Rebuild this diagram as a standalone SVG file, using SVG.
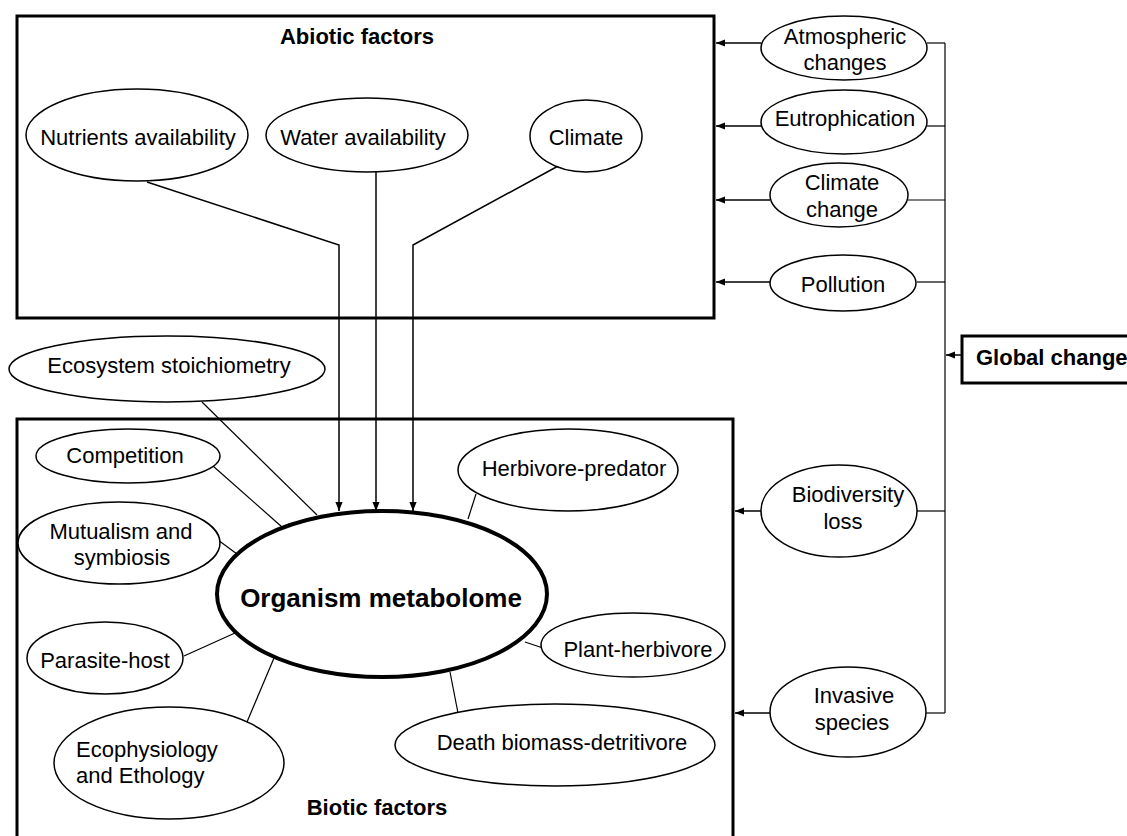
<svg xmlns="http://www.w3.org/2000/svg" width="1127" height="836" viewBox="0 0 1127 836">
<style>
text{font-family:"Liberation Sans",Arial,sans-serif;font-size:22px;fill:#000}
.b{font-weight:bold}
.c{text-anchor:middle}
.n{fill:#fff;stroke:#000;stroke-width:1.5}
.box{fill:none;stroke:#000;stroke-width:3}
.l{fill:none;stroke:#000;stroke-width:1.2}
.a{fill:none;stroke:#000;stroke-width:1.5;marker-end:url(#ah)}
</style>
<defs>
<marker id="ah" viewBox="0 0 10 8" refX="10" refY="4" markerWidth="9" markerHeight="8" markerUnits="userSpaceOnUse" orient="auto">
<path d="M0,0 L10,4 L0,8 Z" fill="#000"/>
</marker>
</defs>
<rect id="abiotic" class="box" x="17" y="16" width="697" height="302" fill="#fff"/>
<rect id="biotic" class="box" x="17" y="419" width="716" height="430"/>
<g id="connectors">
<polyline class="a" points="147,182 339,245 339,511"/>
<polyline class="a" points="376,172 376,511"/>
<polyline class="a" points="560,165 413,245 413,511"/>
<line class="l" x1="202" y1="402" x2="317" y2="515"/>
<line class="l" x1="213" y1="466" x2="282" y2="527"/>
<line class="l" x1="218" y1="540" x2="237" y2="554"/>
<line class="l" x1="184" y1="656" x2="235" y2="633"/>
<line class="l" x1="247" y1="722" x2="274" y2="658"/>
<line class="l" x1="476" y1="494" x2="468" y2="519"/>
<line class="l" x1="525" y1="642" x2="543" y2="648"/>
<line class="l" x1="450" y1="672" x2="458" y2="713"/>
<line class="a" x1="761" y1="43" x2="716" y2="43"/>
<line class="a" x1="761" y1="126" x2="716" y2="126"/>
<line class="a" x1="770" y1="200" x2="716" y2="200"/>
<line class="a" x1="770" y1="282" x2="716" y2="282"/>
<line class="a" x1="761" y1="511" x2="735" y2="511"/>
<line class="a" x1="770" y1="713" x2="735" y2="713"/>
<line class="l" x1="945" y1="43" x2="945" y2="713"/>
<line class="l" x1="927" y1="43" x2="945" y2="43"/>
<line class="l" x1="927" y1="126" x2="945" y2="126"/>
<line class="l" x1="908" y1="200" x2="945" y2="200"/>
<line class="l" x1="917" y1="282" x2="945" y2="282"/>
<line class="l" x1="917" y1="511" x2="945" y2="511"/>
<line class="l" x1="926" y1="713" x2="945" y2="713"/>
<line class="a" x1="962" y1="355" x2="946" y2="355"/>
</g>
<text class="b c" x="357" y="44">Abiotic factors</text>
<text class="b c" x="377" y="815">Biotic factors</text>
<g id="nutrients"><ellipse class="n" cx="137" cy="135" rx="111" ry="46"/><text class="c" x="138" y="145">Nutrients availability</text></g>
<g id="water"><ellipse class="n" cx="367" cy="135" rx="101" ry="37"/><text class="c" x="363" y="145">Water availability</text></g>
<g id="climate"><ellipse class="n" cx="586" cy="136" rx="56" ry="36"/><text class="c" x="586" y="145">Climate</text></g>
<g id="atmospheric"><ellipse class="n" cx="844" cy="48" rx="83" ry="32"/><text class="c" x="845" y="44">Atmospheric</text><text class="c" x="845" y="70">changes</text></g>
<g id="eutrophication"><ellipse class="n" cx="844" cy="122" rx="83" ry="32"/><text class="c" x="845" y="126">Eutrophication</text></g>
<g id="climatechange"><ellipse class="n" cx="839" cy="195" rx="69" ry="32"/><text class="c" x="842" y="190">Climate</text><text class="c" x="842" y="217">change</text></g>
<g id="pollution"><ellipse class="n" cx="843" cy="283" rx="73" ry="28"/><text class="c" x="843" y="292">Pollution</text></g>
<g id="globalchange"><rect class="box" x="962" y="336" width="200" height="47" fill="#fff"/><text class="b" x="976" y="365">Global change</text></g>
<g id="biodiversity"><ellipse class="n" cx="839" cy="511" rx="78" ry="46"/><text class="c" x="848" y="502">Biodiversity</text><text class="c" x="843" y="529">loss</text></g>
<g id="invasive"><ellipse class="n" cx="848" cy="712" rx="78" ry="45"/><text class="c" x="854" y="703">Invasive</text><text class="c" x="852" y="730">species</text></g>
<g id="stoichiometry"><ellipse class="n" cx="167" cy="369" rx="158" ry="33"/><text class="c" x="169" y="373">Ecosystem stoichiometry</text></g>
<g id="competition"><ellipse class="n" cx="128" cy="456" rx="92" ry="27"/><text class="c" x="125" y="463">Competition</text></g>
<g id="mutualism"><ellipse class="n" cx="119" cy="543" rx="101" ry="41"/><text class="c" x="121" y="539">Mutualism and</text><text class="c" x="122" y="565">symbiosis</text></g>
<g id="metabolome"><ellipse cx="382" cy="594" rx="165" ry="83" fill="#fff" stroke="#000" stroke-width="4"/><text class="b c" x="381" y="607" style="font-size:26px">Organism metabolome</text></g>
<g id="parasite"><ellipse class="n" cx="105" cy="658" rx="78" ry="36"/><text class="c" x="105" y="668">Parasite-host</text></g>
<g id="ecophysiology"><ellipse class="n" cx="169" cy="763" rx="115" ry="56"/><text x="76" y="757">Ecophysiology</text><text x="76" y="783">and Ethology</text></g>
<g id="herbivorepredator"><ellipse class="n" cx="568" cy="470" rx="110" ry="41"/><text class="c" x="574" y="476">Herbivore-predator</text></g>
<g id="plantherbivore"><ellipse class="n" cx="633" cy="645" rx="92" ry="32"/><text class="c" x="638" y="657">Plant-herbivore</text></g>
<g id="death"><ellipse class="n" cx="555" cy="745" rx="160" ry="41"/><text class="c" x="562" y="750">Death biomass-detritivore</text></g>
</svg>
